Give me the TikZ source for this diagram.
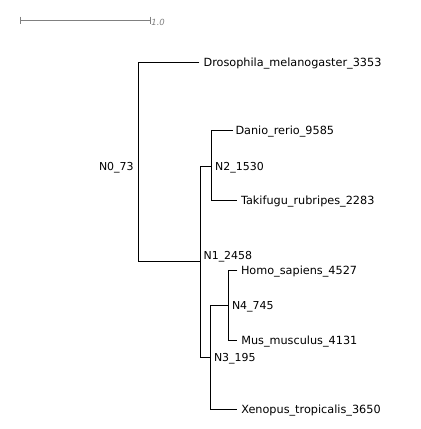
\documentclass[tikz,border=0pt]{standalone}
\usepackage{fontspec}
\setmainfont{DejaVu Sans}
\begin{document}
\begin{tikzpicture}[x=1bp,y=-1bp,
  br/.style={draw=black, line width=1bp},
  lbl/.style={anchor=base west, inner sep=0pt, font=\fontsize{11.3}{13}\selectfont},
  ilbl/.style={anchor=base west, inner sep=0pt, font=\fontsize{11}{13}\selectfont},
  sbar/.style={draw=black!50, line width=1bp},
  slbl/.style={anchor=base west, inner sep=0pt, text=black!50, font=\fontsize{8.5}{10}\selectfont\itshape}]
\useasboundingbox (0,0) rectangle (421,429);
% scale bar
\coordinate (s0) at (20.7,20.3);
\coordinate (s1) at (150.7,20.3);
\coordinate (s0t) at (20.7,16.7);
\coordinate (s0b) at (20.7,24);
\coordinate (s1t) at (150.7,16.7);
\coordinate (s1b) at (150.7,24);
\draw[sbar] (s0) -- (s1);
\draw[sbar] (s0t) -- (s0b);
\draw[sbar] (s1t) -- (s1b);
\node[slbl] (sl) at (151.2,25.5) {1.0};
% branch points
\coordinate (n0t) at (138.7,62);
\coordinate (n0b) at (138.7,261);
\coordinate (n1) at (200.3,261);
\coordinate (n1t) at (200.3,166.7);
\coordinate (n1b) at (200.3,357.3);
\coordinate (n2) at (211.5,166.7);
\coordinate (n2t) at (211.5,130.7);
\coordinate (n2b) at (211.5,200.7);
\coordinate (n3) at (210.3,357.3);
\coordinate (n3t) at (210.3,305);
\coordinate (n3b) at (210.3,409.3);
\coordinate (n4) at (228.5,305);
\coordinate (n4t) at (228.5,270);
\coordinate (n4b) at (228.5,340.7);
% leaf ends
\coordinate (droE) at (199.3,62);
\coordinate (danE) at (233,130.7);
\coordinate (takE) at (237.3,200.7);
\coordinate (homE) at (237.3,270);
\coordinate (musE) at (237.3,340.7);
\coordinate (xenE) at (237.3,409.3);
% branches
\draw[br] (droE) -- (n0t) -- (n0b) -- (n1);
\draw[br] (n1t) -- (n1b);
\draw[br] (n1t) -- (n2);
\draw[br] (danE) -- (n2t) -- (n2b) -- (takE);
\draw[br] (n1b) -- (n3);
\draw[br] (n3t) -- (n3b) -- (xenE);
\draw[br] (n3t) -- (n4);
\draw[br] (homE) -- (n4t) -- (n4b) -- (musE);
% leaf labels
\node[lbl] (dro) at (203.4,66) {Drosophila\_melanogaster\_3353};
\node[lbl] (dan) at (235.3,134.7) {Danio\_rerio\_9585};
\node[lbl] (tak) at (240.8,204.7) {Takifugu\_rubripes\_2283};
\node[lbl] (hom) at (240.8,274) {Homo\_sapiens\_4527};
\node[lbl] (mus) at (241.1,344.7) {Mus\_musculus\_4131};
\node[lbl] (xen) at (241.1,413.3) {Xenopus\_tropicalis\_3650};
% internal labels
\node[ilbl, anchor=base east] (l0) at (133.8,170.7) {N0\_73};
\node[ilbl] (l1) at (203.4,259) {N1\_2458};
\node[ilbl] (l2) at (215,170.7) {N2\_1530};
\node[ilbl] (l3) at (213.8,361.7) {N3\_195};
\node[ilbl] (l4) at (231.8,309.3) {N4\_745};
\end{tikzpicture}
\end{document}
